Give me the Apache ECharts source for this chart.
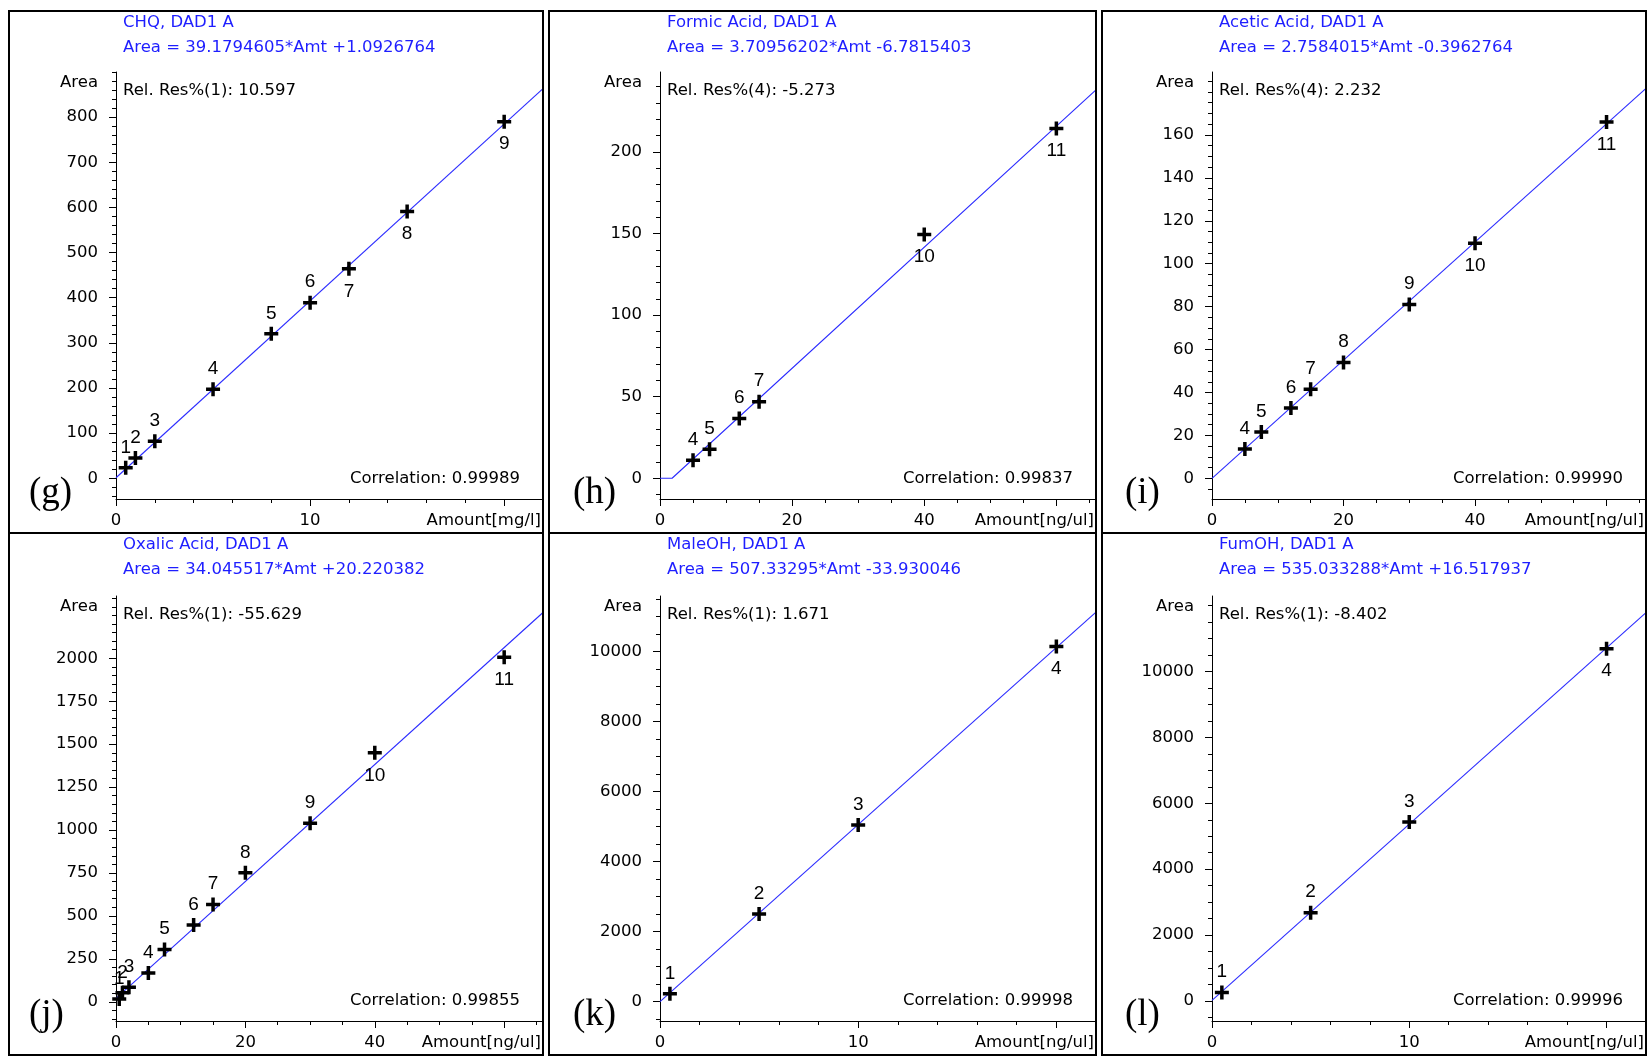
<!DOCTYPE html>
<html><head><meta charset="utf-8">
<script src="https://cdn.jsdelivr.net/npm/echarts@6/dist/echarts.min.js"></script>
<style>html,body{margin:0;padding:0;background:#fff}#c{width:1652px;height:1060px}</style>
</head><body><div id="c"></div>
<script>
// ---------------- data ----------------
const panelTitles = ["CHQ, DAD1 A", "Formic Acid, DAD1 A", "Acetic Acid, DAD1 A", "Oxalic Acid, DAD1 A", "MaleOH, DAD1 A", "FumOH, DAD1 A"];
const equations = ["Area = 39.1794605*Amt +1.0926764", "Area = 3.70956202*Amt -6.7815403", "Area = 2.7584015*Amt -0.3962764", "Area = 34.045517*Amt +20.220382", "Area = 507.33295*Amt -33.930046", "Area = 535.033288*Amt +16.517937"];
const relResTexts = ["Rel. Res%(1): 10.597", "Rel. Res%(4): -5.273", "Rel. Res%(4): 2.232", "Rel. Res%(1): -55.629", "Rel. Res%(1): 1.671", "Rel. Res%(1): -8.402"];
const correlationTexts = ["Correlation: 0.99989", "Correlation: 0.99837", "Correlation: 0.99990", "Correlation: 0.99855", "Correlation: 0.99998", "Correlation: 0.99996"];
const panelLetters = ["(g)", "(h)", "(i)", "(j)", "(k)", "(l)"];
const xAxisNames = ["Amount[mg/l]", "Amount[ng/ul]", "Amount[ng/ul]", "Amount[ng/ul]", "Amount[ng/ul]", "Amount[ng/ul]"];
const yAxisName = "Area";

// CHQ
const chqLevels = [1, 2, 3, 4, 5, 6, 7, 8, 9];
const chqAmount = [0.5, 1, 2, 5, 8, 10, 12, 15, 20];
const chqArea   = [23, 45, 82, 197, 320, 389, 464, 591, 790];
const chqFit    = [[0, 1.1], [22, 863]];
// Formic acid
const formicLevels = [4, 5, 6, 7, 10, 11];
const formicAmount = [5, 7.5, 12, 15, 40, 60];
const formicArea   = [11.1, 17.8, 36.7, 46.9, 149.4, 214.3];
const formicFit    = [[0, 0], [1.83, 0], [66, 238]];
// Acetic acid
const aceticLevels = [4, 5, 6, 7, 8, 9, 10, 11];
const aceticAmount = [5, 7.5, 12, 15, 20, 30, 40, 60];
const aceticArea   = [13.7, 21.6, 32.8, 41.5, 54, 81, 109.5, 166];
const aceticFit    = [[0, 0], [66, 181.7]];
// Oxalic acid
const oxalicLevels = [1, 2, 3, 4, 5, 6, 7, 8, 9, 10, 11];
const oxalicAmount = [0.5, 1, 2, 5, 7.5, 12, 15, 20, 30, 40, 60];
const oxalicArea   = [16.5, 52, 85, 168, 305, 447, 567, 751, 1039, 1450, 2007];
const oxalicFit    = [[0, 20.2], [66, 2267]];
// MaleOH
const maleLevels = [1, 2, 3, 4];
const maleAmount = [0.5, 5, 10, 20];
const maleArea   = [225, 2508, 5050, 10150];
const maleFit    = [[0, 0], [22, 11127]];
// FumOH
const fumLevels = [1, 2, 3, 4];
const fumAmount = [0.5, 5, 10, 20];
const fumArea   = [255, 2680, 5430, 10690];
const fumFit    = [[0, 16.5], [22, 11787]];

// axis ranges and ticks
const shortXRange = [0, 22], longXRange = [0, 66];
const shortXTicks = [0, 10, 20], shortXLabels = [0, 10], shortXMinor = 2;
const longXTicks = [0, 20, 40, 60], longXLabels = [0, 20, 40], longXMinor = 5;
const chqYRange = [-46, 900],      chqYTicks = [0, 100, 200, 300, 400, 500, 600, 700, 800], chqYMinor = 20;
const formicYRange = [-12.7, 249], formicYTicks = [0, 50, 100, 150, 200], formicYMinor = 10;
const aceticYRange = [-9.6, 189.3], aceticYTicks = [0, 20, 40, 60, 80, 100, 120, 140, 160], aceticYMinor = 5;
const oxalicYRange = [-112, 2363], oxalicYTicks = [0, 250, 500, 750, 1000, 1250, 1500, 1750, 2000], oxalicYMinor = 50;
const maleYRange = [-551, 11590],  maleYTicks = [0, 2000, 4000, 6000, 8000, 10000], maleYMinor = 500;
const fumYRange = [-607, 12290],   fumYTicks = [0, 2000, 4000, 6000, 8000, 10000], fumYMinor = 500;

// ---------------- assembly ----------------
const panels = [
  { levels: chqLevels, amount: chqAmount, area: chqArea, fit: chqFit, xr: shortXRange, xt: shortXTicks, xl: shortXLabels, xm: shortXMinor, yr: chqYRange, yt: chqYTicks, ym: chqYMinor },
  { levels: formicLevels, amount: formicAmount, area: formicArea, fit: formicFit, xr: longXRange, xt: longXTicks, xl: longXLabels, xm: longXMinor, yr: formicYRange, yt: formicYTicks, ym: formicYMinor },
  { levels: aceticLevels, amount: aceticAmount, area: aceticArea, fit: aceticFit, xr: longXRange, xt: longXTicks, xl: longXLabels, xm: longXMinor, yr: aceticYRange, yt: aceticYTicks, ym: aceticYMinor },
  { levels: oxalicLevels, amount: oxalicAmount, area: oxalicArea, fit: oxalicFit, xr: longXRange, xt: longXTicks, xl: longXLabels, xm: longXMinor, yr: oxalicYRange, yt: oxalicYTicks, ym: oxalicYMinor },
  { levels: maleLevels, amount: maleAmount, area: maleArea, fit: maleFit, xr: shortXRange, xt: shortXTicks, xl: shortXLabels, xm: shortXMinor, yr: maleYRange, yt: maleYTicks, ym: maleYMinor },
  { levels: fumLevels, amount: fumAmount, area: fumArea, fit: fumFit, xr: shortXRange, xt: shortXTicks, xl: shortXLabels, xm: shortXMinor, yr: fumYRange, yt: fumYTicks, ym: fumYMinor }
];

// style: which point labels sit below the cross
const labelsBelow = [[7, 8, 9], [10, 11], [10, 11], [10, 11], [4], [4]];

// layout
const cols = [{ left: 9, right: 543, axisX: 116 }, { left: 549, right: 1096, axisX: 660 }, { left: 1102, right: 1646, axisX: 1212 }];
const rows = [{ top: 11, bottom: 533, plotTop: 72, plotBottom: 499 }, { top: 533, bottom: 1055, plotTop: 596, plotBottom: 1021 }];

const SANS = '"DejaVu Sans", sans-serif';
const BLUE_TEXT = '#1e1eff';
const LINE_BLUE = '#2b2bff';
const INK = '#000';

function range(a, b, s) {
  const out = [];
  for (let v = Math.ceil(a / s - 1e-9) * s; v <= b + 1e-9; v += s) out.push(+v.toFixed(6));
  return out;
}
function plain(v) { return String(v); }
function txt(text, x, y, o) {
  const st = Object.assign({ text: text, fill: INK, font: '16.5px ' + SANS, align: 'left', verticalAlign: 'middle' }, o || {});
  st.textAlign = st.align; st.textVerticalAlign = st.verticalAlign;
  return { type: 'text', x: x, y: y, silent: true, z: 100, style: st };
}

const option = { animation: false, backgroundColor: '#fff', grid: [], xAxis: [], yAxis: [], series: [], graphic: [] };
const axisLs = { color: INK, width: 1 };

panels.forEach(function (p, i) {
  const col = cols[i % 3], row = rows[Math.floor(i / 3)];
  option.grid.push({ left: col.axisX, top: row.plotTop, width: col.right - col.axisX, height: row.plotBottom - row.plotTop, containLabel: false, show: false });

  option.xAxis.push({
    type: 'value', gridIndex: i, position: 'bottom', min: p.xr[0], max: p.xr[1],
    splitLine: { show: false }, minorTick: { show: false },
    axisLine: { show: true, onZero: false, lineStyle: axisLs },
    axisTick: { show: true, inside: false, customValues: p.xt, length: 7, lineStyle: axisLs },
    axisLabel: { show: true, customValues: p.xl, formatter: plain, margin: 13, color: INK, fontFamily: SANS, fontSize: 16.5, hideOverlap: false }
  });
  option.xAxis.push({
    type: 'value', gridIndex: i, position: 'bottom', offset: 0, min: p.xr[0], max: p.xr[1],
    splitLine: { show: false },
    axisLine: { show: false, onZero: false },
    axisTick: { show: true, inside: false, customValues: range(p.xr[0], p.xr[1], p.xm), length: 4, lineStyle: axisLs },
    axisLabel: { show: false }
  });
  option.yAxis.push({
    type: 'value', gridIndex: i, position: 'left', min: p.yr[0], max: p.yr[1],
    splitLine: { show: false },
    axisLine: { show: true, onZero: false, lineStyle: axisLs },
    axisTick: { show: true, inside: false, customValues: p.yt, length: 7, lineStyle: axisLs },
    axisLabel: { show: true, customValues: p.yt, formatter: plain, margin: 18, color: INK, fontFamily: SANS, fontSize: 16.5, hideOverlap: false }
  });
  option.yAxis.push({
    type: 'value', gridIndex: i, position: 'left', offset: 0, min: p.yr[0], max: p.yr[1],
    splitLine: { show: false },
    axisLine: { show: false, onZero: false },
    axisTick: { show: true, inside: false, customValues: range(p.yr[0], p.yr[1], p.ym), length: 4, lineStyle: axisLs },
    axisLabel: { show: false }
  });

  option.series.push({
    type: 'line', xAxisIndex: 2 * i, yAxisIndex: 2 * i, data: p.fit, showSymbol: false, symbol: 'none',
    lineStyle: { color: LINE_BLUE, width: 1.1 }, clip: true, silent: true, z: 2
  });
  option.series.push({
    type: 'scatter', xAxisIndex: 2 * i, yAxisIndex: 2 * i, clip: false, silent: true, z: 3,
    symbol: 'path://M5.25,0H8.75V5.25H14V8.75H8.75V14H5.25V8.75H0V5.25H5.25Z', symbolSize: 14,
    itemStyle: { color: INK, opacity: 1 },
    label: { show: true, formatter: '{b}', position: 'top', distance: 4, color: INK, textBorderWidth: 0, fontFamily: '"Liberation Sans", Arial, sans-serif', fontSize: 19 },
    data: p.levels.map(function (lv, k) {
      const below = labelsBelow[i].indexOf(lv) >= 0;
      return { name: String(lv), value: [p.amount[k], p.area[k]], label: below ? { position: 'bottom', distance: 6 } : { position: 'top', distance: 4 } };
    })
  });

  // panel frame and texts
  option.graphic.push({ type: 'rect', silent: true, z: 90, shape: { x: col.left, y: row.top, width: col.right - col.left, height: row.bottom - row.top }, style: { fill: 'none', stroke: INK, lineWidth: 2 } });
  option.graphic.push(txt(panelTitles[i], col.axisX + 7, row.top + 12, { fill: BLUE_TEXT }));
  option.graphic.push(txt(equations[i], col.axisX + 7, row.top + 37, { fill: BLUE_TEXT }));
  option.graphic.push(txt(yAxisName, col.axisX - 18, row.plotTop + 11, { align: 'right' }));
  option.graphic.push(txt(relResTexts[i], col.axisX + 7, row.plotTop + 18.5));
  option.graphic.push(txt(correlationTexts[i], col.right - 23, row.plotBottom - 20, { align: 'right' }));
  option.graphic.push(txt(xAxisNames[i], col.right - 2, row.plotBottom + 22, { align: 'right' }));
  option.graphic.push(txt(panelLetters[i], col.axisX - 87, row.plotBottom - 6, { font: '37px "Liberation Serif", "Times New Roman", serif' }));
});

const chart = echarts.init(document.getElementById('c'), null, { renderer: 'canvas' });
chart.setOption(option);
</script>
</body></html>
